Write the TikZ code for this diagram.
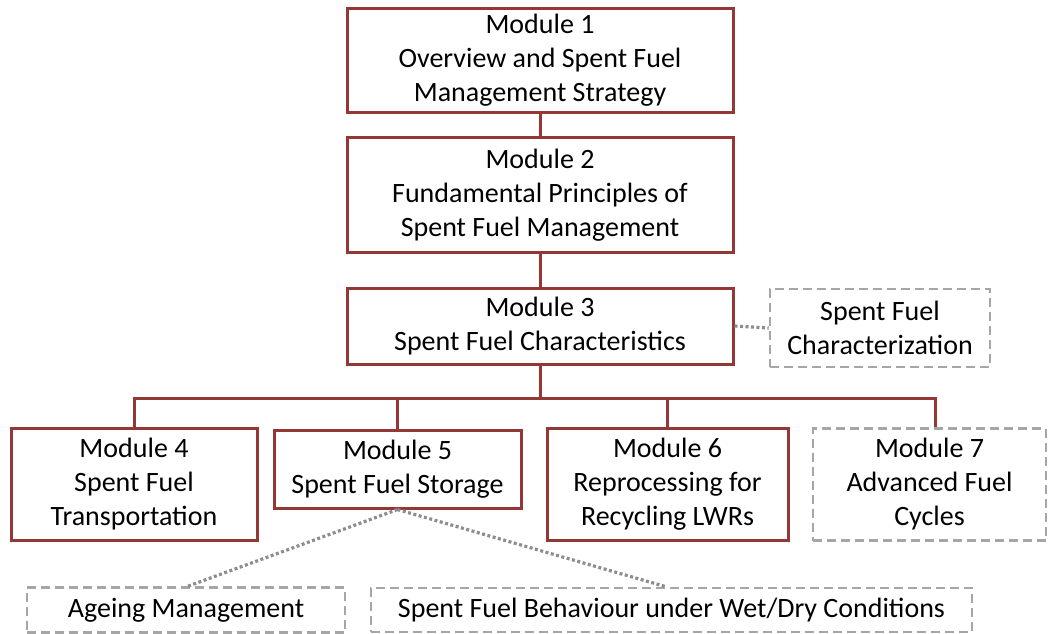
\documentclass[tikz,border=0pt]{standalone}
\usepackage{fontspec}
\setmainfont{Carlito}
\definecolor{modred}{HTML}{953735}
\definecolor{optgray}{HTML}{A6A6A6}
\begin{document}
\begin{tikzpicture}[x=1pt,y=-1pt,
  every node/.style={font=\fontsize{28}{34}\selectfont, align=center, inner sep=0pt},
  modbox/.style={draw=modred, line width=3pt, rectangle, fill=white},
  optbox/.style={draw=optgray, line width=2.6pt, dash pattern=on 9pt off 5pt, rectangle, fill=white},
  tree/.style={draw=modred, line width=3pt},
  link/.style={draw=optgray!85!black, line width=3.2pt, dash pattern=on 3pt off 2.5pt}]
\useasboundingbox (0,0) rectangle (1056,633);

% main chain of modules
\node[modbox, minimum width=386pt, minimum height=104pt] (m1) at (540,60)
  {Module 1\\Overview and Spent Fuel\\Management Strategy};
\node[modbox, minimum width=386pt, minimum height=115pt] (m2) at (540,195)
  {Module 2\\Fundamental Principles of\\Spent Fuel Management};
\node[modbox, minimum width=386pt, minimum height=76pt] (m3) at (540,326)
  {Module 3\\Spent Fuel Characteristics};
\node[optbox, minimum width=220pt, minimum height=78pt] (sfc) at (880,328)
  {Spent Fuel\\Characterization};

% second row
\node[modbox, minimum width=246pt, minimum height=112pt] (m4) at (134,484)
  {Module 4\\Spent Fuel\\Transportation};
\node[modbox, minimum width=247pt, minimum height=78pt] (m5) at (397.5,469)
  {Module 5\\Spent Fuel Storage};
\node[modbox, minimum width=241pt, minimum height=112pt] (m6) at (667.5,484)
  {Module 6\\Reprocessing for\\Recycling LWRs};
\node[optbox, minimum width=233pt, minimum height=112pt] (m7) at (929.5,484.5)
  {Module 7\\Advanced Fuel\\Cycles};

% storage topics
\node[optbox, minimum width=318pt, minimum height=45pt] (age) at (186,610)
  {Ageing Management};
\node[optbox, minimum width=601pt, minimum height=44pt] (beh) at (671.5,610)
  {Spent Fuel Behaviour under Wet/Dry Conditions};

% tree connectors
\coordinate (bus) at (540,398);
\coordinate (t7) at (935,0);
\draw[tree] (m1.south) -- (m2.north);
\draw[tree] (m2.south) -- (m3.north);
\draw[tree] (m3.south) -- (bus);
\draw[tree] (m4.north) |- (bus);
\draw[tree] (m5.north) |- (bus);
\draw[tree] (m6.north) |- (bus);
\draw[tree] (m7.north -| t7) |- (bus);

% dotted links to supporting topics
\draw[link] (m3.east) -- (sfc.west);
\coordinate (a1) at (188,0);
\coordinate (b1) at (666,0);
\draw[link] (m5.south) -- (age.north -| a1);
\draw[link] (m5.south) -- (beh.north -| b1);
\end{tikzpicture}
\end{document}
